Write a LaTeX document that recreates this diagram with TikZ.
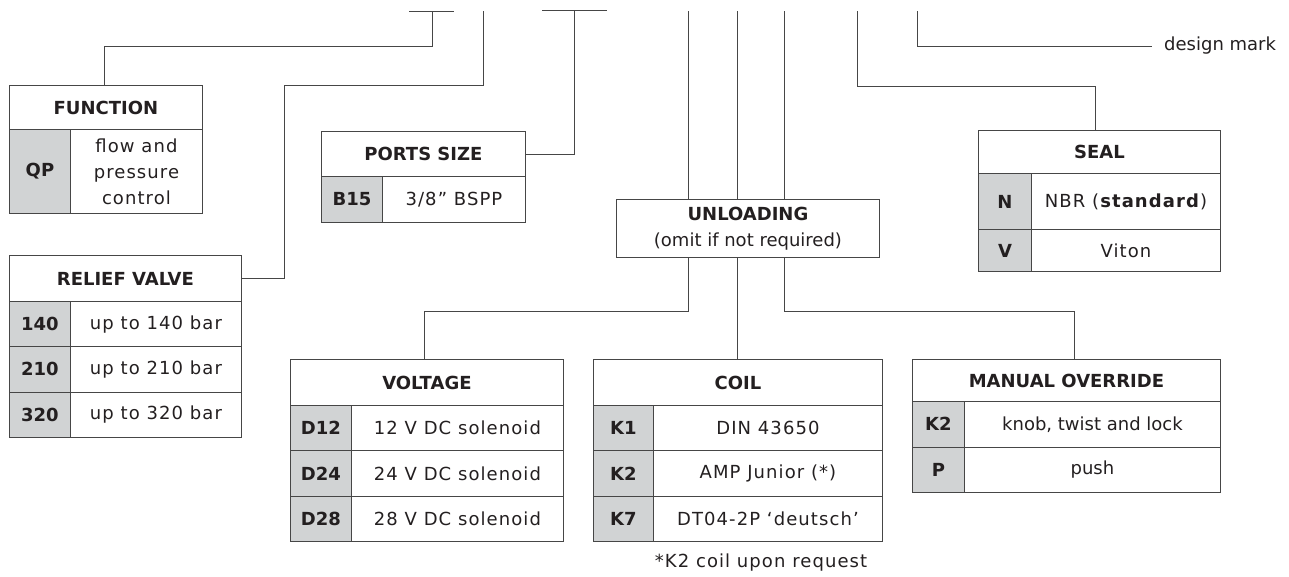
\documentclass[tikz,border=0pt]{standalone}
\usepackage{fontspec}
\setmainfont{DejaVu Sans}
\usepackage{xcolor}
\usepackage{tikz}
\usetikzlibrary{positioning}
\definecolor{keygray}{RGB}{209, 211, 212}
\definecolor{inkdark}{RGB}{35, 31, 32}
\definecolor{rulegray}{RGB}{70, 70, 70}
\newcommand{\tabplain}{\fontsize{18}{26}\selectfont}
\newcommand{\tabtext}{\fontsize{18}{26}\selectfont\addfontfeatures{LetterSpace=6}}
\newcommand{\tabhead}{\fontsize{18}{26}\selectfont\bfseries}

\begin{document}
\begin{tikzpicture}[x=1pt, y=-1pt,
  cell/.style={draw=rulegray, line width=0.9pt, inner sep=0pt, anchor=north west, align=center, text=inkdark, font=\tabtext},
  headcell/.style={cell, font=\tabhead},
  keycell/.style={cell, fill=keygray, font=\tabhead},
  link/.style={draw=rulegray, line width=0.9pt}]
\useasboundingbox (0,0) rectangle (1289,576);
% function
\node[headcell, minimum width=193pt, minimum height=44pt] (fn-head) at (9,85) {FUNCTION};
\node[keycell, minimum width=61pt, minimum height=84pt] (fn-k1) at (9,129) {QP};
\node[cell, minimum width=132pt, minimum height=84pt] (fn-v1) at (70,129) {flow and\\pressure\\control};
% relief valve
\node[headcell, minimum width=232pt, minimum height=46pt] (rv-head) at (9,255) {RELIEF VALVE};
\foreach \k/\v [count=\i] in {140/up to 140 bar, 210/up to 210 bar, 320/up to 320 bar} {
  \node[keycell, minimum width=61pt, minimum height=45.3pt] (rv-k\i) at (9,{301+45.3*(\i-1)}) {\k};
  \node[cell, minimum width=171pt, minimum height=45.3pt] (rv-v\i) at (70,{301+45.3*(\i-1)}) {\v};
}
% ports size
\node[headcell, minimum width=204pt, minimum height=45pt] (ps-head) at (321,131) {PORTS SIZE};
\node[keycell, minimum width=61pt, minimum height=46pt] (ps-k1) at (321,176) {B15};
\node[cell, minimum width=143pt, minimum height=46pt] (ps-v1) at (382,176) {3/8” BSPP};
% unloading
\node[cell, font=\tabplain, minimum width=263pt, minimum height=58pt] (ul) at (616,199) {\textbf{UNLOADING}\\(omit if not required)};
% seal
\node[headcell, minimum width=242pt, minimum height=43pt] (se-head) at (978,130) {SEAL};
\node[keycell, minimum width=53pt, minimum height=56pt] (se-k1) at (978,173) {N};
\node[cell, minimum width=189pt, minimum height=56pt] (se-v1) at (1031,173) {NBR (\textbf{standard})};
\node[keycell, minimum width=53pt, minimum height=42pt] (se-k2) at (978,229) {V};
\node[cell, minimum width=189pt, minimum height=42pt] (se-v2) at (1031,229) {Viton};
% voltage
\node[headcell, minimum width=273pt, minimum height=46pt] (vt-head) at (290,359) {VOLTAGE};
\foreach \k/\v [count=\i] in {D12/12 V DC solenoid, D24/24 V DC solenoid, D28/28 V DC solenoid} {
  \node[keycell, minimum width=61pt, minimum height=45.3pt] (vt-k\i) at (290,{405+45.3*(\i-1)}) {\k};
  \node[cell, minimum width=212pt, minimum height=45.3pt] (vt-v\i) at (351,{405+45.3*(\i-1)}) {\v};
}
% coil
\node[headcell, minimum width=289pt, minimum height=46pt] (co-head) at (593,359) {COIL};
\foreach \k/\v [count=\i] in {K1/DIN 43650, K2/AMP Junior (*), K7/DT04-2P ‘deutsch’} {
  \node[keycell, minimum width=60pt, minimum height=45.3pt] (co-k\i) at (593,{405+45.3*(\i-1)}) {\k};
  \node[cell, minimum width=229pt, minimum height=45.3pt] (co-v\i) at (653,{405+45.3*(\i-1)}) {\v};
}
\node[font=\tabtext, text=inkdark] (co-note) at (761,563) {*K2 coil upon request};
% manual override
\node[headcell, minimum width=308pt, minimum height=42pt] (mo-head) at (912,359) {MANUAL OVERRIDE};
\foreach \k/\v [count=\i] in {K2/{knob, twist and lock}, P/push} {
  \node[keycell, minimum width=52pt, minimum height=45.5pt] (mo-k\i) at (912,{401+45.5*(\i-1)}) {\k};
  \node[cell, font=\tabplain, minimum width=256pt, minimum height=45.5pt] (mo-v\i) at (964,{401+45.5*(\i-1)}) {\v};
}
% design mark
\node[font=\tabplain, text=inkdark, inner sep=0pt, anchor=west] (dm) at (1164,46) {design mark};

% code positions on top
\coordinate (fn-top) at (432,11);
\coordinate (rv-top) at (483,11);
\coordinate (ps-top) at (574,10);
\coordinate (ul-a) at (688,11);
\coordinate (ul-b) at (737,11);
\coordinate (ul-c) at (784,11);
\coordinate (se-top) at (857,11);
\coordinate (dm-top) at (917,11);

\draw[link] ([xshift=-23pt]fn-top) -- ([xshift=22pt]fn-top);
\draw[link] ([xshift=-32pt]ps-top) -- ([xshift=33pt]ps-top);
\draw[link] (fn-top) -- ++(0,35) -| ([xshift=-2pt]fn-head.north);
\draw[link] (rv-top) |- (284,85) |- (rv-head.east);
\draw[link] (ps-top) |- (ps-head.east);
\foreach \c in {ul-a, ul-b, ul-c}
  \draw[link] (\c) -- (\c |- ul.north);
\draw[link] (se-top) -- ++(0,75) -| ([xshift=-4pt]se-head.north);
\draw[link] (dm-top) |- ([xshift=-12pt]dm.west);
% below unloading
\draw[link] (ul-a |- ul.south) -- ++(0,54) -| ([xshift=-3pt]vt-head.north);
\draw[link] (ul-b |- ul.south) -- (ul-b |- co-head.north);
\draw[link] (ul-c |- ul.south) -- ++(0,54) -| ([xshift=8pt]mo-head.north);
\end{tikzpicture}
\end{document}
